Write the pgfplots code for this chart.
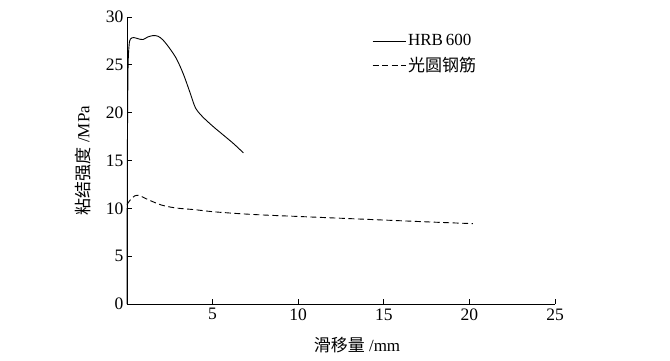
\documentclass[border=0pt]{standalone}
\usepackage{pgfplots}
\pgfplotsset{compat=1.18}
\usepackage{fontspec}
\setmainfont{Liberation Serif}
\newfontfamily\cjk{Noto Sans CJK SC}
\begin{document}
\begin{tikzpicture}[x=1pt,y=1pt]
\useasboundingbox (0,0) rectangle (670,361);
\begin{axis}[
  at={(127pt,57pt)}, anchor=south west,
  scale only axis, width=428pt, height=287pt,
  xmin=0, xmax=25, ymin=0, ymax=30,
  axis lines*=left, axis line style={line width=0.9pt, -},
  xtick={5,10,15,20,25}, ytick={0,5,10,15,20,25,30},
  tick align=inside, major tick length=5pt,
  tick style={line width=0.9pt, black},
  /pgf/number format/assume math mode=true,
  ticklabel style={font=\fontsize{17.5}{20}\selectfont},
  xticklabel style={yshift=-1pt},
  xlabel={{\cjk 滑移量} /mm}, ylabel={{\cjk 粘结强度} /MPa},
  label style={font=\fontsize{17}{20}\selectfont},
  xlabel style={at={(0.5,0)}, anchor=center, yshift=-41pt, xshift=16pt},
  ylabel style={at={(0,0.5)}, anchor=center, yshift=44pt},
  clip=false,
  legend style={draw=none, fill=none, at={(245pt,250pt)}, anchor=west,
    font=\fontsize{17}{20}\selectfont, row sep=6pt, inner sep=0pt},
  legend cell align=left,
  legend image code/.code={\draw[#1] (0pt,0pt) -- (33pt,0pt);},
]
\addplot[black, line width=0.9pt, smooth, tension=0.5] coordinates {
(0,0) (0.02,15) (0.06,24.5) (0.12,27.0) (0.2,27.7) (0.4,27.85) (0.7,27.7) (0.95,27.65)
(1.2,27.9) (1.5,28.05) (1.8,28.0) (2.1,27.6) (2.5,26.7) (2.9,25.6) (3.3,24.0)
(3.7,22.0) (4.0,20.5) (4.4,19.6) (5.0,18.6) (5.6,17.7) (6.2,16.8) (6.8,15.8)};
\addlegendentry{HRB\,600}
\addplot[black, line width=0.9pt, dash pattern=on 6pt off 3.5pt, smooth, tension=0.5] coordinates {
(0,10.4) (0.2,10.9) (0.45,11.3) (0.7,11.35) (1.0,11.1) (1.5,10.7) (2.0,10.35)
(2.8,10.05) (4.0,9.85) (5.0,9.65) (6.5,9.45) (8.0,9.3) (10.0,9.15) (12.0,9.0)
(14.0,8.85) (16.0,8.7) (18.0,8.55) (20.2,8.4)};
\addlegendentry{\cjk 光圆钢筋}
\end{axis}
\end{tikzpicture}
\end{document}
